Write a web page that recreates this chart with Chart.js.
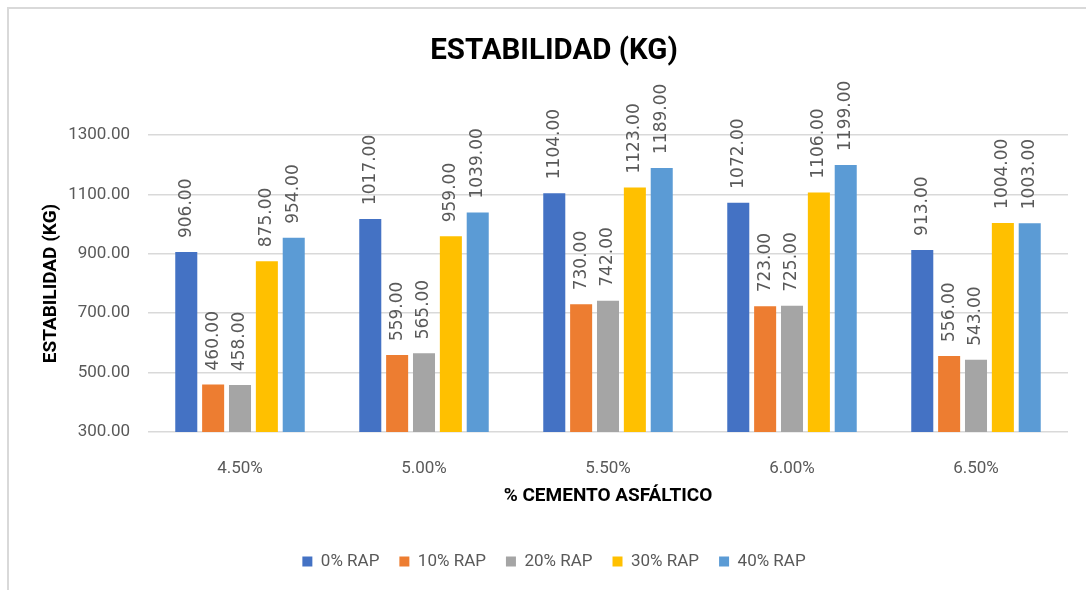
<!DOCTYPE html>
<html>
<head>
<meta charset="utf-8">
<script src="https://cdn.jsdelivr.net/npm/chart.js@4"></script>
<style>
  body { margin: 0; background: #fff; }
  #frame { position: absolute; left: 7px; top: 7px; width: 1100px; height: 600px;
           border-top: 2px solid #d9d9d9; border-left: 2px solid #d9d9d9; }
  #myChart { position: absolute; left: 0; top: 0; }
</style>
</head>
<body>
<div id="frame"></div>
<canvas id="myChart" width="1086" height="590"></canvas>
<script>
  const labels = ['4.50%', '5.00%', '5.50%', '6.00%', '6.50%'];

  const rap0  = [906, 1017, 1104, 1072, 913];
  const rap10 = [460, 559, 730, 723, 556];
  const rap20 = [458, 565, 742, 725, 543];
  const rap30 = [875, 959, 1123, 1106, 1004];
  const rap40 = [954, 1039, 1189, 1199, 1003];

  const seriesNames = ['0% RAP', '10% RAP', '20% RAP', '30% RAP', '40% RAP'];
  const colors = ['#4472C4', '#ED7D31', '#A5A5A5', '#FFC000', '#5B9BD5'];

  const yTicks = [300, 500, 700, 900, 1100, 1300];

  const grey = '#595959';

  // etiquetas verticales encima de cada barra
  const barLabels = {
    id: 'barLabels',
    afterDatasetsDraw(chart) {
      const ctx = chart.ctx;
      ctx.save();
      ctx.font = '17px "DejaVu Sans"';
      ctx.fillStyle = grey;
      ctx.textAlign = 'left';
      ctx.textBaseline = 'middle';
      chart.data.datasets.forEach((ds, i) => {
        const meta = chart.getDatasetMeta(i);
        meta.data.forEach((bar, j) => {
          ctx.save();
          ctx.translate(bar.x, bar.y - 14);
          ctx.rotate(-Math.PI / 2);
          ctx.fillText(ds.data[j].toFixed(2), 0, 0);
          ctx.restore();
        });
      });
      ctx.restore();
    }
  };

  const data = {
    labels: labels,
    datasets: [rap0, rap10, rap20, rap30, rap40].map((vals, i) => ({
      label: seriesNames[i],
      data: vals,
      backgroundColor: colors[i],
      categoryPercentage: 0.73,
      barPercentage: 0.82
    }))
  };

  const config = {
    type: 'bar',
    data: data,
    plugins: [barLabels],
    options: {
      responsive: false,
      devicePixelRatio: 1,
      animation: false,
      layout: { padding: { top: 10, left: 40, right: 18, bottom: 10 } },
      plugins: {
        tooltip: { enabled: false },
        title: {
          display: true,
          text: 'ESTABILIDAD (KG)',
          color: '#000',
          font: { family: 'Roboto', size: 29.5, weight: 'bold' },
          padding: { top: 24.3, bottom: 65.3 }
        },
        legend: {
          position: 'bottom',
          labels: {
            boxWidth: 10,
            boxHeight: 10,
            padding: 20,
            color: grey,
            font: { family: 'Roboto', size: 17 }
          }
        }
      },
      scales: {
        x: {
          grid: { display: false },
          border: { display: false },
          ticks: { color: grey, font: { family: 'Roboto', size: 17 }, padding: 19 },
          title: {
            display: true,
            text: '% CEMENTO ASFÁLTICO',
            color: '#000',
            font: { family: 'Roboto', size: 19, weight: 'bold' },
            padding: { top: 0, bottom: 25.6 }
          },
          afterFit(scale) { scale.height = 101; }
        },
        y: {
          min: 300,
          max: 1300,
          grid: { color: '#d9d9d9', lineWidth: 1.5, drawTicks: false },
          border: { display: false },
          afterBuildTicks(scale) { scale.ticks = yTicks.map(v => ({ value: v })); },
          ticks: {
            color: grey,
            font: { family: 'Roboto', size: 17 },
            padding: 18,
            callback: v => Number(v).toFixed(2)
          },
          title: {
            display: true,
            text: 'ESTABILIDAD (KG)',
            color: '#000',
            font: { family: 'Roboto', size: 19, weight: 'bold' },
            padding: { top: 0, bottom: 0 }
          },
          afterFit(scale) { scale.width = 108; }
        }
      }
    }
  };

  const myChart = new Chart(document.getElementById('myChart'), config);
</script>
</body>
</html>
